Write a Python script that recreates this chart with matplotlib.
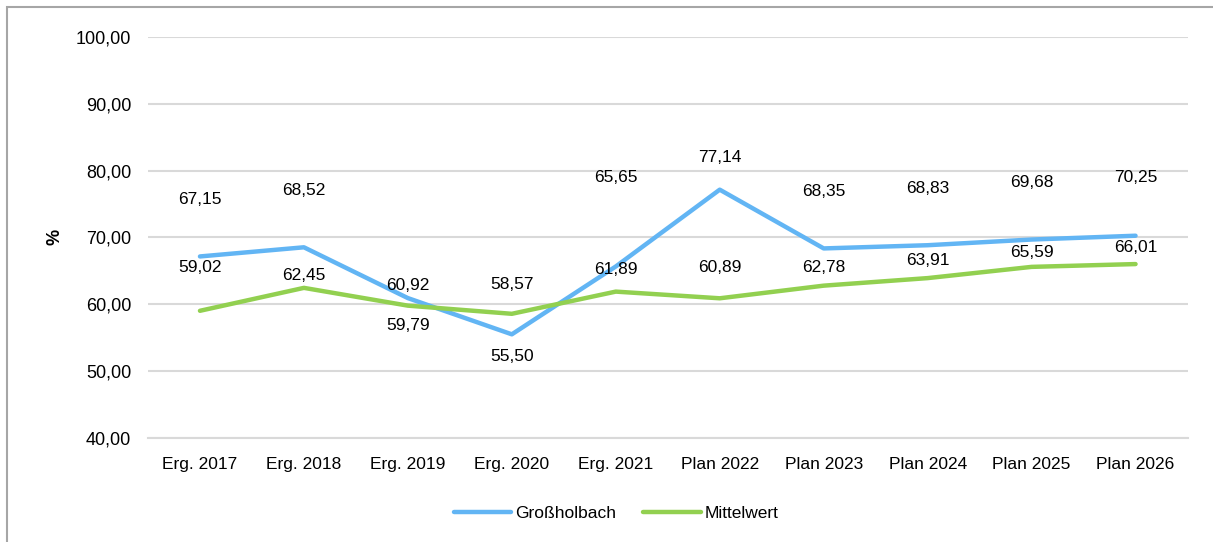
import matplotlib.pyplot as plt
from matplotlib.patches import Rectangle

plt.rcParams["font.family"] = ["Liberation Sans", "DejaVu Sans"]

categories = ["Erg. 2017", "Erg. 2018", "Erg. 2019", "Erg. 2020", "Erg. 2021",
              "Plan 2022", "Plan 2023", "Plan 2024", "Plan 2025", "Plan 2026"]
grossholbach = [67.15, 68.52, 60.92, 55.50, 65.65, 77.14, 68.35, 68.83, 69.68, 70.25]
mittelwert = [59.02, 62.45, 59.79, 58.57, 61.89, 60.89, 62.78, 63.91, 65.59, 66.01]

# label offsets in points (manual placement like the original)
off_gross = [41, 41, 9, -16, 64, 23, 41, 41, 41, 42]
off_mittel = [31, 9, -14, 21, 16, 22, 13, 13, 10, 12]

blue = "#62b5f4"
green = "#92d050"

fig = plt.figure(figsize=(12.13, 5.42), dpi=100)
ax = fig.add_axes([0.122, 0.192, 0.857, 0.74])

x = list(range(len(categories)))
ax.plot(x, grossholbach, color=blue, lw=3.2, solid_capstyle="round", label="Großholbach", zorder=3)
ax.plot(x, mittelwert, color=green, lw=3.2, solid_capstyle="round", label="Mittelwert", zorder=3)

for i, (g, m) in enumerate(zip(grossholbach, mittelwert)):
    ax.annotate(f"{g:.2f}".replace(".", ","), (i, g), xytext=(0, off_gross[i]),
                textcoords="offset points", ha="center", va="center", fontsize=12.5)
    ax.annotate(f"{m:.2f}".replace(".", ","), (i, m), xytext=(0, off_mittel[i]),
                textcoords="offset points", ha="center", va="center", fontsize=12.5)

ax.set_xlim(-0.5, len(categories) - 0.5)
ax.set_ylim(40, 100)
ax.set_yticks(range(40, 101, 10))
ax.set_yticklabels([f"{v},00" for v in range(40, 101, 10)])
ax.set_xticks(x)
ax.set_xticklabels(categories)
ax.tick_params(axis="both", length=0, labelsize=12.5)
ax.tick_params(axis="y", pad=12, labelsize=13)
ax.tick_params(axis="x", pad=14)
ax.grid(axis="y", color="#d9d9d9", lw=1.5, zorder=0)
ax.set_axisbelow(True)
for s in ["top", "right", "left"]:
    ax.spines[s].set_visible(False)
ax.spines["bottom"].set_color("#d9d9d9")
ax.spines["bottom"].set_linewidth(1.5)

fig.text(0.045, 0.563, "%", rotation=90, fontsize=13, fontweight="bold", ha="center", va="center")

ax.legend(loc="center", bbox_to_anchor=(616 / 1213, 1 - 513 / 542), bbox_transform=fig.transFigure,
          ncol=2, frameon=False, fontsize=12.5, handlelength=3.3, handletextpad=0.2,
          columnspacing=1.6)

fig.patches.append(Rectangle((7 / 1213, -0.01), 1.0, 1 - 7 / 542 + 0.01, transform=fig.transFigure,
                             fill=False, edgecolor="#a6a6a6", lw=1.5))

fig.savefig("out.png", dpi=100)
